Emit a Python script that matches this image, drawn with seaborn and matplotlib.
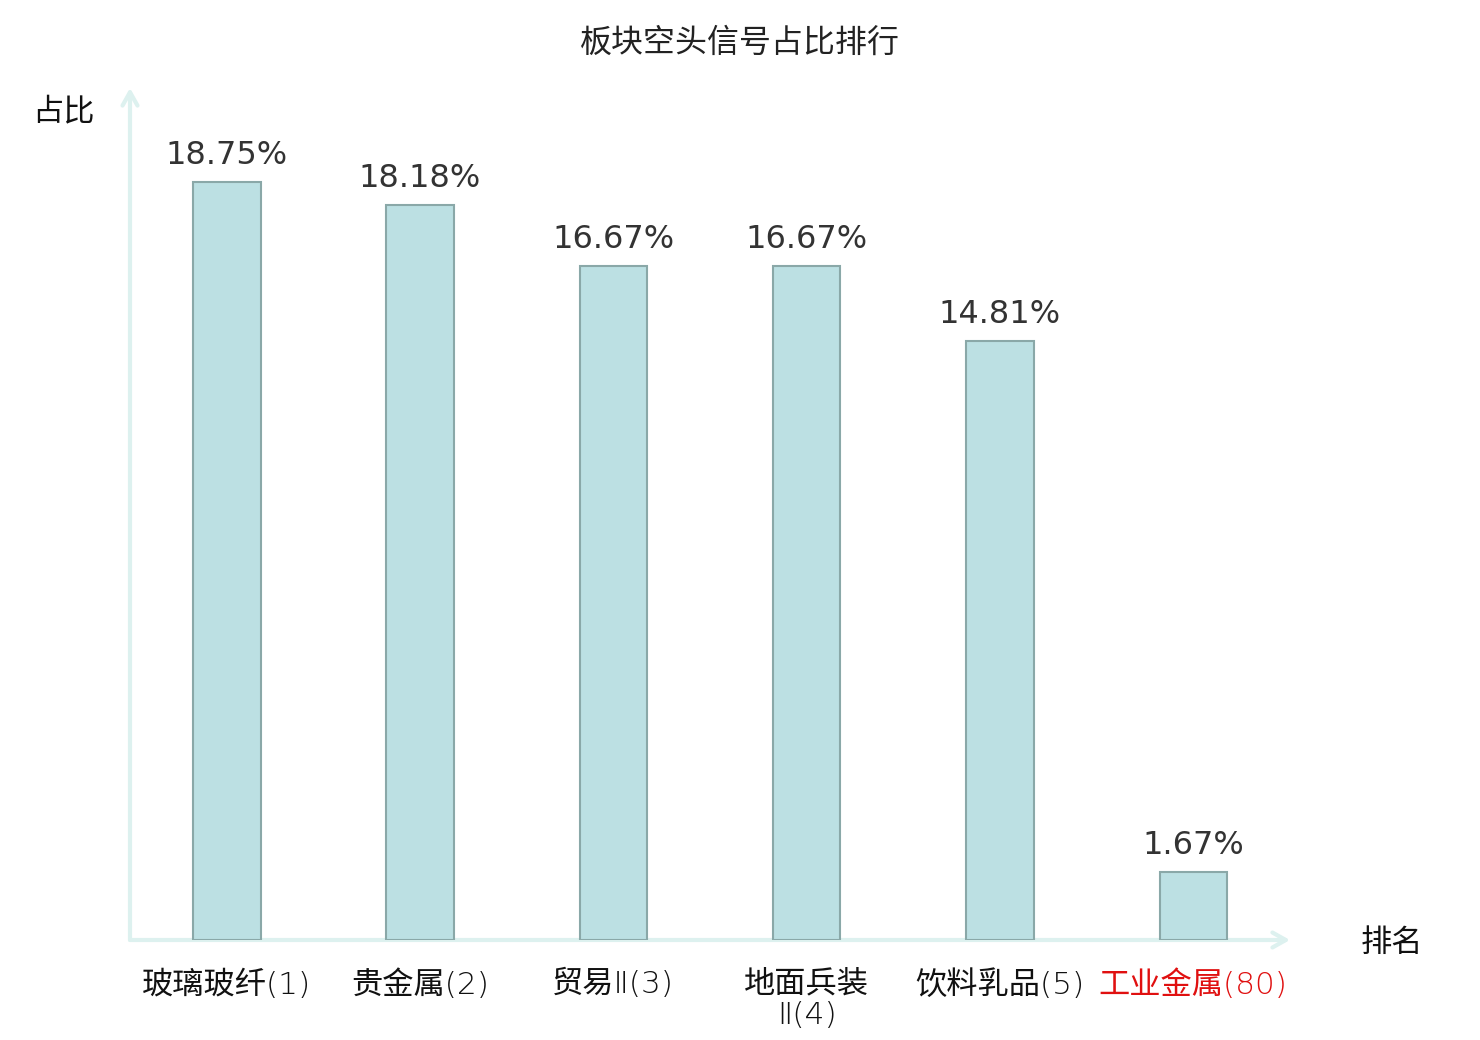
import matplotlib
matplotlib.use("Agg")
import matplotlib.pyplot as plt
import seaborn as sns
import pandas as pd

categories = ["玻璃玻纤(1)", "贵金属(2)", "贸易Ⅱ(3)", "地面兵装\nⅡ(4)", "饮料乳品(5)", "工业金属(80)"]
values = [18.75, 18.18, 16.67, 16.67, 14.81, 1.67]
value_labels = ["18.75%", "18.18%", "16.67%", "16.67%", "14.81%", "1.67%"]
label_colors = ["#111111", "#111111", "#111111", "#111111", "#111111", "#e01010"]
title = "板块空头信号占比排行"
y_name = "占比"
x_name = "排名"

sns.set_theme(style="white")
plt.rcParams["font.family"] = ["Noto Sans CJK SC", "DejaVu Sans"]

fig = plt.figure(figsize=(14.8, 10.4), dpi=100)
ax = fig.add_axes([130/1480, 1-940/1040, 1160/1480, 852/1040])

df = pd.DataFrame({"cat": categories, "val": values})
sns.barplot(data=df, x="cat", y="val", color="#bce0e3", saturation=1,
            width=0.35, edgecolor="#8aa8a8", linewidth=1.5, ax=ax, zorder=3)

ax.set_xlim(-0.5, 5.5)
ax.set_ylim(0, 21.07)
ax.set_xlabel("")
ax.set_ylabel("")
ax.set_yticks([])
for s in ax.spines.values():
    s.set_visible(False)

ax.set_xticks(range(len(categories)))
ax.set_xticklabels(categories, fontsize=22.5, linespacing=1.12,
                   family=["DejaVu Sans", "Noto Sans CJK SC"], fontweight="light")
ax.tick_params(axis="x", length=0, pad=21)
for t, c in zip(ax.get_xticklabels(), label_colors):
    t.set_color(c)
    t.set_verticalalignment("top")

for i, (v, lab) in enumerate(zip(values, value_labels)):
    ax.annotate(lab, xy=(i, v), xytext=(0, 8), textcoords="offset points",
                ha="center", va="bottom", fontsize=23, color="#333333",
                family="DejaVu Sans")

axis_col = "#ddf1ef"
ax.annotate("", xy=(0, 1.0), xytext=(0, 0), xycoords="axes fraction",
            arrowprops=dict(arrowstyle="->,head_length=0.8,head_width=0.45",
                            color=axis_col, lw=3, shrinkA=0, shrinkB=0), zorder=2)
ax.annotate("", xy=(1.0, 0), xytext=(0, 0), xycoords="axes fraction",
            arrowprops=dict(arrowstyle="->,head_length=0.8,head_width=0.45",
                            color=axis_col, lw=3, shrinkA=0, shrinkB=0), zorder=2)

fig.text(740/1480, 1-43/1040, title, ha="center", va="center", fontsize=23, color="#222222")
fig.text(63/1480, 1-111/1040, y_name, ha="center", va="center", fontsize=22.5, color="#111111")
fig.text(1392/1480, 1-943/1040, x_name, ha="center", va="center", fontsize=22.5, color="#111111")

fig.savefig("out.png", dpi=100)
